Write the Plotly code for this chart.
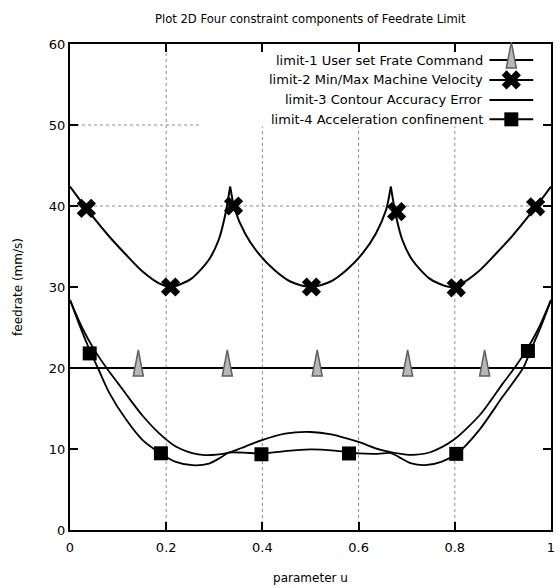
import plotly.graph_objects as go

# ---------------- text ----------------
title_text = "Plot 2D Four constraint components of Feedrate Limit"
x_title = "parameter u"
y_title = "feedrate (mm/s)"
x_ticks = [0, 0.2, 0.4, 0.6, 0.8, 1.0]
x_tick_labels = ["0", "0.2", "0.4", "0.6", "0.8", "1"]
y_ticks = [0, 10, 20, 30, 40, 50, 60]
y_tick_labels = ["0", "10", "20", "30", "40", "50", "60"]
series_names = [
    "limit-1 User set Frate Command",
    "limit-2 Min/Max Machine Velocity",
    "limit-3 Contour Accuracy Error",
    "limit-4 Acceleration confinement",
]

# ---------------- data ----------------
# limit-1 : constant user command
l1_u = [0.0, 1.0]
l1_v = [20.0, 20.0]
l1_mark_u = [0.142, 0.327, 0.514, 0.702, 0.862]
l1_mark_v = [20.0, 20.0, 20.0, 20.0, 20.0]

# limit-2 : machine velocity (cusps at 1/3 and 2/3)
l2_u = [0.0, 0.034, 0.082, 0.117, 0.151, 0.185, 0.209, 0.232, 0.254, 0.288, 0.309, 0.322, 0.333,
        0.343, 0.364, 0.391, 0.425, 0.459, 0.5, 0.541, 0.575, 0.609, 0.636, 0.657, 0.667,
        0.678, 0.691, 0.712, 0.746, 0.768, 0.791, 0.815, 0.849, 0.883, 0.918, 0.966, 1.0]
l2_v = [42.4, 39.7, 36.2, 33.95, 31.9, 30.45, 30.0, 30.4, 31.1, 33.3, 35.8, 38.7, 42.4,
        39.5, 36.6, 34.2, 32.1, 30.65, 30.0, 30.65, 32.1, 34.2, 36.6, 39.5, 42.4,
        38.7, 35.8, 33.3, 31.1, 30.4, 30.0, 30.45, 31.9, 33.95, 36.2, 39.7, 42.4]
l2_cusps = [0.333, 0.667]
l2_mark_u = [0.034, 0.209, 0.340, 0.502, 0.679, 0.803, 0.968]
l2_mark_v = [39.7, 30.0, 40.0, 30.0, 39.3, 29.9, 39.9]

# limit-3 : contour accuracy error
l3_u = [0.0, 0.025, 0.05, 0.076, 0.1, 0.125, 0.151, 0.186, 0.22, 0.254, 0.28, 0.305, 0.33,
        0.364, 0.399, 0.447, 0.5, 0.543, 0.598, 0.646, 0.695, 0.72, 0.749, 0.797, 0.852,
        0.875, 0.9, 0.924, 0.95, 0.975, 1.0]
l3_v = [28.4, 25.0, 22.3, 20.0, 18.1, 16.1, 14.1, 11.9, 10.3, 9.5, 9.25, 9.3, 9.55,
        10.3, 11.1, 11.9, 12.1, 11.8, 10.9, 9.9, 9.35, 9.3, 9.6, 11.1, 14.2,
        16.0, 18.1, 20.0, 22.3, 25.0, 28.4]

# limit-4 : acceleration confinement
l4_u = [0.0, 0.021, 0.041, 0.058, 0.082, 0.117, 0.151, 0.186, 0.22, 0.254, 0.289, 0.316, 0.33,
        0.36, 0.4, 0.447, 0.5, 0.55, 0.6, 0.64, 0.667, 0.684, 0.708, 0.738, 0.772, 0.806,
        0.849, 0.9, 0.942, 0.958, 0.979, 1.0]
l4_v = [28.4, 25.1, 22.2, 20.0, 16.9, 13.6, 11.1, 9.55, 8.4, 8.0, 8.2, 9.05, 9.55,
        9.55, 9.45, 9.75, 9.95, 9.8, 9.45, 9.4, 9.5, 9.0, 8.25, 8.0, 8.4, 9.5,
        12.2, 16.5, 20.0, 22.2, 25.1, 28.4]
l4_mark_u = [0.041, 0.189, 0.398, 0.58, 0.803, 0.952]
l4_mark_v = [21.8, 9.47, 9.35, 9.45, 9.4, 22.1]

# ---------------- styling ----------------
FONT = "DejaVu Sans, Verdana, sans-serif"
BLACK = "#000000"
TRI_FILL = "#b8b8b8"
TRI_EDGE = "#606060"
GRID = "#8c8c8c"
# narrow "cone" glyph, pixel offsets relative to its anchor point (y up)
CONE_PATH = "M-5,-8 L5,-8 L0,18 Z"

x_marker = dict(symbol="x", size=17, color=BLACK, line=dict(width=0))
sq_marker = dict(symbol="square", size=14, color=BLACK, line=dict(width=0))


def cone(xa, ya, xref, yref):
    return dict(type="path", xref=xref, yref=yref, xsizemode="pixel", ysizemode="pixel",
                xanchor=xa, yanchor=ya, path=CONE_PATH, fillcolor=TRI_FILL,
                line=dict(color=TRI_EDGE, width=1.5), layer="above")


fig = go.Figure()

# limit-1
fig.add_trace(go.Scatter(x=l1_u, y=l1_v, mode="lines",
                         line=dict(color=BLACK, width=2), showlegend=False))

# limit-2 split into smooth segments between cusps
cut_idx = [0] + [l2_u.index(c) for c in l2_cusps] + [len(l2_u) - 1]
for a, b in zip(cut_idx[:-1], cut_idx[1:]):
    fig.add_trace(go.Scatter(x=l2_u[a:b + 1], y=l2_v[a:b + 1], mode="lines",
                             line=dict(color=BLACK, width=2, shape="spline", smoothing=0.8),
                             showlegend=False))
fig.add_trace(go.Scatter(x=l2_mark_u, y=l2_mark_v, mode="markers",
                         marker=x_marker, showlegend=False))

# limit-3
fig.add_trace(go.Scatter(x=l3_u, y=l3_v, mode="lines",
                         line=dict(color=BLACK, width=1.8, shape="spline", smoothing=0.8),
                         showlegend=False))
# limit-4
fig.add_trace(go.Scatter(x=l4_u, y=l4_v, mode="lines",
                         line=dict(color=BLACK, width=1.8, shape="spline", smoothing=0.8),
                         showlegend=False))
fig.add_trace(go.Scatter(x=l4_mark_u, y=l4_mark_v, mode="markers",
                         marker=sq_marker, showlegend=False))

shapes = []
# limit-1 cone markers anchored on the data points
for mu, mv in zip(l1_mark_u, l1_mark_v):
    shapes.append(cone(mu, mv, "x", "y"))

# ---------------- gnuplot-like key (text right aligned, sample on the right) ----------------
key_rows = [0.967, 0.926, 0.885, 0.845]
key_text_x = 0.862
key_line_x = [0.872, 0.9175, 0.963]
key_markers = ["cone", x_marker, None, sq_marker]
for name, ky, mk in zip(series_names, key_rows, key_markers):
    fig.add_trace(go.Scatter(x=key_line_x, y=[ky] * 3, mode="lines", xaxis="x2", yaxis="y2",
                             line=dict(color=BLACK, width=2), showlegend=False, hoverinfo="skip"))
    if mk == "cone":
        shapes.append(cone(key_line_x[1], ky, "paper", "paper"))
    elif mk is not None:
        fig.add_trace(go.Scatter(x=[key_line_x[1]], y=[ky], mode="markers",
                                 xaxis="x2", yaxis="y2", cliponaxis=False,
                                 marker=mk, showlegend=False, hoverinfo="skip"))
    fig.add_annotation(x=key_text_x, y=ky, xref="paper", yref="paper", text=name,
                       showarrow=False, xanchor="right", yanchor="middle",
                       font=dict(family=FONT, size=13, color=BLACK))

# ---------------- dotted grid (hidden behind the opaque key) ----------------
key_left, key_bottom = 0.268, 0.83
for gx in [0.2, 0.4, 0.6, 0.8]:
    top = 1.0 if gx < 0.25 else key_bottom
    shapes.append(dict(type="line", xref="x", yref="paper", x0=gx, x1=gx, y0=0, y1=top,
                       line=dict(color=GRID, width=1, dash="dot"), layer="below"))
for gy, right in [(40, 1.0), (50, key_left)]:
    shapes.append(dict(type="line", xref="paper", yref="y", x0=0, x1=right, y0=gy, y1=gy,
                       line=dict(color=GRID, width=1, dash="dot"), layer="below"))

axis_common = dict(showline=True, linecolor=BLACK, linewidth=2, mirror="ticks",
                   ticks="inside", ticklen=8, tickwidth=1.5, tickcolor=BLACK,
                   showgrid=False, zeroline=False,
                   tickfont=dict(family=FONT, size=13, color=BLACK))

fig.update_layout(
    width=560, height=588,
    margin=dict(l=70, r=5, t=44, b=58),
    paper_bgcolor="white", plot_bgcolor="white",
    title=dict(text=title_text, x=0.554, xanchor="center", y=0.968, yanchor="middle",
               font=dict(family=FONT, size=11.6, color=BLACK)),
    xaxis=dict(range=[0, 1], tickvals=x_ticks, ticktext=x_tick_labels, ticklabelstandoff=4,
               title=dict(text=x_title, standoff=20, font=dict(family=FONT, size=12, color=BLACK)),
               **axis_common),
    yaxis=dict(range=[0, 60], tickvals=y_ticks, ticktext=y_tick_labels,
               title=dict(text=y_title, standoff=24, font=dict(family=FONT, size=12, color=BLACK)),
               **axis_common),
    xaxis2=dict(range=[0, 1], overlaying="x", anchor="y2", visible=False),
    yaxis2=dict(range=[0, 1], overlaying="y", anchor="x2", visible=False),
    shapes=shapes,
    showlegend=False,
)

fig.write_html("out.html")
